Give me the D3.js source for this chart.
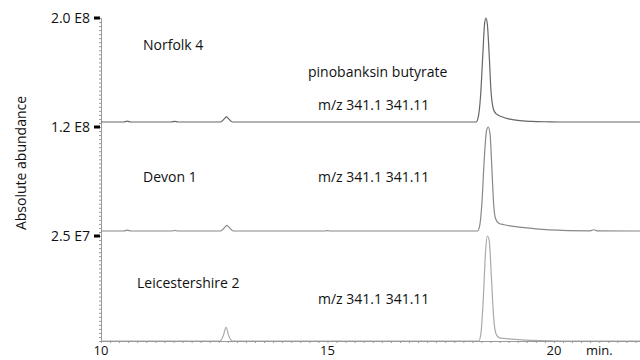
<!DOCTYPE html>
<html><head><meta charset="utf-8">
<script src="https://cdn.jsdelivr.net/npm/d3@7"></script>
<style>body{margin:0;background:#fff}svg{display:block}text{font-family:"Open Sans",sans-serif;fill:#111}</style>
</head><body>
<svg id="c" width="640" height="360"></svg>
<script>
// sample names and annotations
const samples = ["Norfolk 4", "Devon 1", "Leicestershire 2"];
const yMaxLabels = ["2.0 E8", "1.2 E8", "2.5 E7"];
const compound = "pinobanksin butyrate";
const mzLabel = "m/z 341.1 341.11";
const xTicks = [10, 15, 20];
const xDomain = [10, 21.9];
// traces: [time (min), relative abundance (fraction of panel max)]
const traceNorfolk = [
  [10.0,0],[10.5,0],[10.58,0.008],[10.66,0],[11.55,0],[11.63,0.006],[11.7,0],
  [12.64,0],[12.72,0.03],[12.77,0.05],[12.82,0.03],[12.9,0],
  [18.28,0],[18.33,0.05],[18.38,0.25],[18.43,0.65],[18.47,0.95],[18.5,1.0],[18.53,0.94],
  [18.57,0.65],[18.61,0.3],[18.66,0.13],[18.72,0.08],[18.85,0.05],[19.0,0.03],[19.2,0.015],
  [19.5,0.006],[19.9,0.002],[20.3,0],[21.9,0]
];
const traceDevon = [
  [10.0,0],[10.5,0],[10.58,0.008],[10.66,0],[11.55,0],[11.63,0.005],[11.7,0],
  [12.64,0],[12.72,0.03],[12.78,0.055],[12.84,0.03],[12.92,0],
  [14.95,0],[15.0,0.004],[15.05,0],
  [18.31,0],[18.36,0.05],[18.41,0.27],[18.46,0.68],[18.51,0.96],[18.55,1.0],[18.59,0.93],
  [18.63,0.6],[18.67,0.25],[18.71,0.12],[18.78,0.075],[18.9,0.06],[19.1,0.045],[19.3,0.035],
  [19.6,0.02],[19.9,0.01],[20.3,0.004],[20.8,0.002],[20.88,0.012],[20.95,0.002],[21.9,0]
];
const traceLeicester = [
  [10.0,0],[12.62,0],[12.7,0.05],[12.76,0.13],[12.82,0.05],[12.9,0],
  [18.34,0],[18.39,0.08],[18.44,0.4],[18.49,0.85],[18.53,1.0],[18.57,0.96],
  [18.62,0.6],[18.67,0.22],[18.72,0.07],[18.8,0.03],[19.0,0.02],[19.3,0.01],[19.7,0.003],[20.2,0],[21.9,0]
];
const traces = [traceNorfolk, traceDevon, traceLeicester];

const svg = d3.select("#c");
const left = 101, right = 640;
const panels = [{top:18,bottom:122},{top:127,bottom:231},{top:236,bottom:341}];
const colors = ["#666","#888","#aaa"];
const x = d3.scaleLinear().domain(xDomain).range([left, right]);

// vertical axis with minor ticks
const yAll = d3.scaleLinear().domain([0, 80]).range([341, 18]);
const yAxis = d3.axisLeft(yAll).tickValues(d3.range(0, 81, 1)).tickSize(2).tickFormat("");
const ga = svg.append("g").attr("transform", `translate(${left},0)`).call(yAxis);
ga.selectAll("line").attr("stroke","#999");
ga.select(".domain").attr("stroke","#999").attr("stroke-width",1);

panels.forEach((p, i) => {
  const y = d3.scaleLinear().domain([0, 1]).range([p.bottom, p.top]);
  svg.append("path").datum(traces[i])
    .attr("d", d3.line().x(d => x(d[0])).y(d => y(d[1])).curve(d3.curveMonotoneX))
    .attr("fill","none").attr("stroke", colors[i]).attr("stroke-width", 1.2);
  // major tick
  svg.append("line").attr("x1", left-7).attr("x2", left-1).attr("y1", y(1)).attr("y2", y(1))
    .attr("stroke","#000").attr("stroke-width",3);
  svg.append("text").attr("x", left-11).attr("y", y(1)).attr("dy","0.35em")
    .attr("text-anchor","end").attr("font-size",14).text(yMaxLabels[i]);
});

// x axis
const xAxis = d3.axisBottom(x).tickValues(d3.range(10, 21.91, 0.2)).tickSize(2).tickFormat("");
const gx = svg.append("g").attr("transform","translate(0,341)").call(xAxis);
gx.selectAll("line").attr("stroke","#999");
gx.select(".domain").attr("stroke","#999");
xTicks.forEach(t => svg.append("text").attr("x", x(t)).attr("y", 355).attr("text-anchor","middle")
  .attr("font-size",13).text(t));
svg.append("text").attr("x", 586).attr("y", 355).attr("font-size",13).text("min.");

// labels
svg.append("text").attr("transform","translate(26,163) rotate(-90)").attr("text-anchor","middle")
  .attr("font-size",14).text("Absolute abundance");
svg.append("text").attr("x",143).attr("y",50).attr("font-size",14).text(samples[0]);
svg.append("text").attr("x",308).attr("y",77).attr("font-size",14).text(compound);
svg.append("text").attr("x",318).attr("y",110).attr("font-size",14).text(mzLabel);
svg.append("text").attr("x",143).attr("y",182).attr("font-size",14).text(samples[1]);
svg.append("text").attr("x",318).attr("y",182).attr("font-size",14).text(mzLabel);
svg.append("text").attr("x",137).attr("y",288).attr("font-size",14).text(samples[2]);
svg.append("text").attr("x",318).attr("y",304).attr("font-size",14).text(mzLabel);
</script>
</body></html>
